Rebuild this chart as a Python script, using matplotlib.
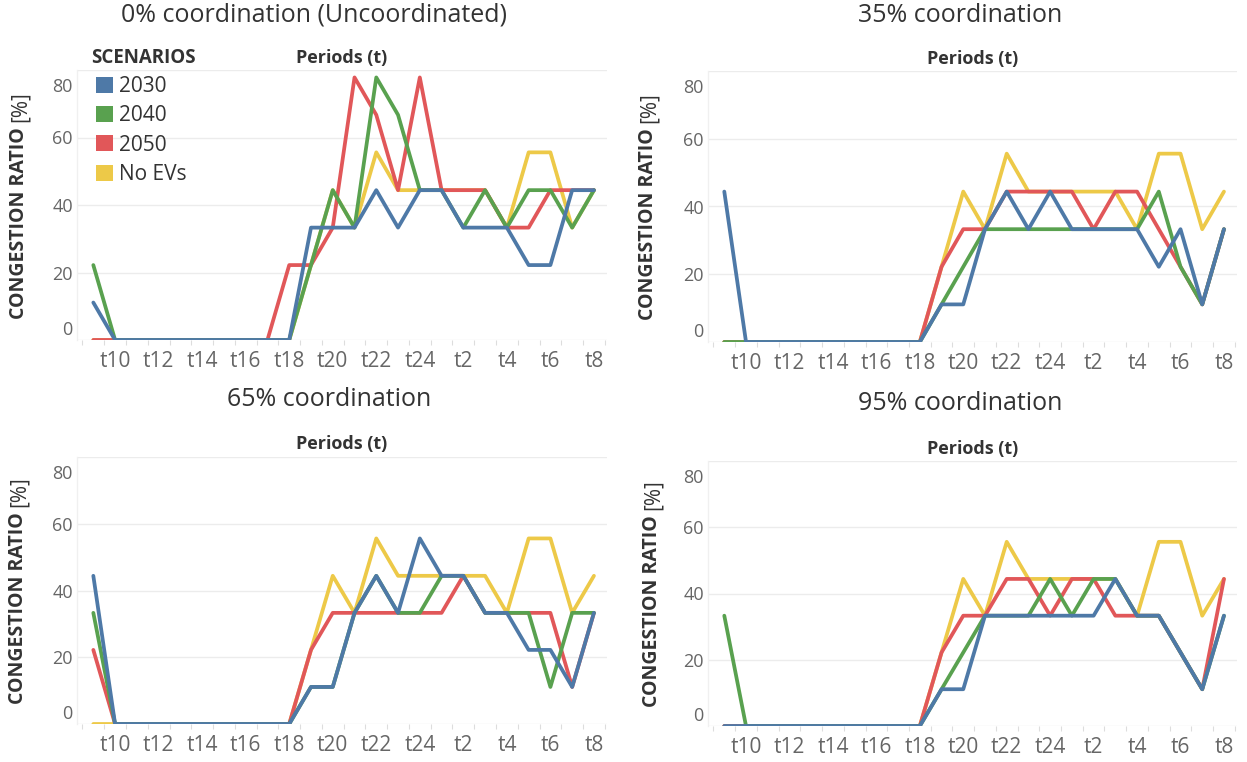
import matplotlib
matplotlib.use("Agg")
import matplotlib.pyplot as plt
from matplotlib.transforms import ScaledTranslation
from matplotlib.patches import Patch

plt.rcParams['font.family'] = ['Open Sans', 'DejaVu Sans']

# ---------------- data ----------------
periods = ['t9', 't10', 't11', 't12', 't13', 't14', 't15', 't16', 't17', 't18',
           't19', 't20', 't21', 't22', 't23', 't24', 't1', 't2', 't3', 't4',
           't5', 't6', 't7', 't8']
shown_ticks = ['t10', 't12', 't14', 't16', 't18', 't20', 't22', 't24', 't2', 't4', 't6', 't8']

scenarios = ['2030', '2040', '2050', 'No EVs']
panel_titles = ['0% coordination (Uncoordinated)', '35% coordination',
                '65% coordination', '95% coordination']

no_evs = [0, 0, 0, 0, 0, 0, 0, 0, 0, 0, 22.2, 44.4, 33.3, 55.6, 44.4, 44.4,
          44.4, 44.4, 44.4, 33.3, 55.6, 55.6, 33.3, 44.4]

c00_2030 = [11.1, 0, 0, 0, 0, 0, 0, 0, 0, 0, 33.3, 33.3, 33.3, 44.4, 33.3, 44.4,
            44.4, 33.3, 33.3, 33.3, 22.2, 22.2, 44.4, 44.4]
c00_2040 = [22.2, 0, 0, 0, 0, 0, 0, 0, 0, 0, 22.2, 44.4, 33.3, 77.8, 66.7, 44.4,
            44.4, 33.3, 44.4, 33.3, 44.4, 44.4, 33.3, 44.4]
c00_2050 = [0, 0, 0, 0, 0, 0, 0, 0, 0, 22.2, 22.2, 33.3, 77.8, 66.7, 44.4, 77.8,
            44.4, 44.4, 44.4, 33.3, 33.3, 44.4, 44.4, 44.4]

c35_2030 = [44.4, 0, 0, 0, 0, 0, 0, 0, 0, 0, 11.1, 11.1, 33.3, 44.4, 33.3, 44.4,
            33.3, 33.3, 33.3, 33.3, 22.2, 33.3, 11.1, 33.3]
c35_2040 = [0, 0, 0, 0, 0, 0, 0, 0, 0, 0, 11.1, 22.2, 33.3, 33.3, 33.3, 33.3,
            33.3, 33.3, 33.3, 33.3, 44.4, 22.2, 11.1, 33.3]
c35_2050 = [0, 0, 0, 0, 0, 0, 0, 0, 0, 0, 22.2, 33.3, 33.3, 44.4, 44.4, 44.4,
            44.4, 33.3, 44.4, 44.4, 33.3, 22.2, 11.1, 33.3]

c65_2030 = [44.4, 0, 0, 0, 0, 0, 0, 0, 0, 0, 11.1, 11.1, 33.3, 44.4, 33.3, 55.6,
            44.4, 44.4, 33.3, 33.3, 22.2, 22.2, 11.1, 33.3]
c65_2040 = [33.3, 0, 0, 0, 0, 0, 0, 0, 0, 0, 11.1, 11.1, 33.3, 44.4, 33.3, 33.3,
            44.4, 44.4, 33.3, 33.3, 33.3, 11.1, 33.3, 33.3]
c65_2050 = [22.2, 0, 0, 0, 0, 0, 0, 0, 0, 0, 22.2, 33.3, 33.3, 33.3, 33.3, 33.3,
            33.3, 44.4, 33.3, 33.3, 33.3, 33.3, 11.1, 33.3]

c95_2030 = [0, 0, 0, 0, 0, 0, 0, 0, 0, 0, 11.1, 11.1, 33.3, 33.3, 33.3, 33.3,
            33.3, 33.3, 44.4, 33.3, 33.3, 22.2, 11.1, 33.3]
c95_2040 = [33.3, 0, 0, 0, 0, 0, 0, 0, 0, 0, 11.1, 22.2, 33.3, 33.3, 33.3, 44.4,
            33.3, 44.4, 44.4, 33.3, 33.3, 22.2, 11.1, 33.3]
c95_2050 = [0, 0, 0, 0, 0, 0, 0, 0, 0, 0, 22.2, 33.3, 33.3, 44.4, 44.4, 33.3,
            44.4, 44.4, 33.3, 33.3, 33.3, 22.2, 11.1, 44.4]

panels = [
    {'2030': c00_2030, '2040': c00_2040, '2050': c00_2050, 'No EVs': no_evs},
    {'2030': c35_2030, '2040': c35_2040, '2050': c35_2050, 'No EVs': no_evs},
    {'2030': c65_2030, '2040': c65_2040, '2050': c65_2050, 'No EVs': no_evs},
    {'2030': c95_2030, '2040': c95_2040, '2050': c95_2050, 'No EVs': no_evs},
]

y_ticks = [0, 20, 40, 60, 80]

# ---------------- style ----------------
colors = {'2030': '#4E79A7', '2040': '#59A14F', '2050': '#E15759', 'No EVs': '#EDC948'}
draw_order = ['No EVs', '2050', '2040', '2030']

W, H = 1247, 762
fig = plt.figure(figsize=(W / 100, H / 100), dpi=100)
fig.patch.set_facecolor('white')

# (left, right, top, bottom) in pixels
rects = [(77, 607, 70, 340), (708, 1237, 71, 342),
         (77, 607, 457, 724), (708, 1237, 461, 726)]
title_pos = [(314, 15), (960, 15), (329, 400), (960, 404)]
periods_y = [58, 59, 444, 449]
ylabel_x = [19, 648, 18, 652]

x_idx = list(range(len(periods)))


def fx(px):
    return px / W


def fy(py):
    return 1 - py / H


renderer = fig.canvas.get_renderer()

for k, (l, r, t, b) in enumerate(rects):
    ax = fig.add_axes([fx(l), fy(b), (r - l) / W, (b - t) / H])
    data = panels[k]
    for s in draw_order:
        ax.plot(x_idx, data[s], color=colors[s], lw=2.7,
                solid_joinstyle='round', solid_capstyle='round')
    ax.set_xlim(-0.75, 23.6)
    ax.set_ylim(0, 80)

    # grid
    for v in y_ticks:
        ax.axhline(v, color='#ececec', lw=1.0, zorder=0)
    for sp in ['top', 'right', 'bottom']:
        ax.spines[sp].set_visible(False)
    ax.spines['left'].set_color('#f0f0f0')
    ax.spines['left'].set_linewidth(1.0)

    # x ticks
    ax.set_xticks([periods.index(p) for p in shown_ticks])
    ax.set_xticklabels(shown_ticks)
    ax.set_xticks([i + 0.5 for i in range(-1, 24)], minor=True)
    ax.tick_params(axis='x', which='major', length=0, pad=8, labelsize=15,
                   labelcolor='#666666')
    ax.tick_params(axis='x', which='minor', length=3.5, color='#dddddd', width=0.8)

    # y ticks
    ax.set_yticks(y_ticks)
    ax.set_yticklabels([str(v) for v in y_ticks])
    ax.tick_params(axis='y', length=0, pad=3, labelsize=13, labelcolor='#666666')
    ylabs = ax.get_yticklabels()
    ylabs[0].set_transform(ylabs[0].get_transform() +
                           ScaledTranslation(0, 12 / 100, fig.dpi_scale_trans))
    ylabs[-1].set_transform(ylabs[-1].get_transform() +
                            ScaledTranslation(0, -15 / 100, fig.dpi_scale_trans))

    # texts
    tx, ty = title_pos[k]
    fig.text(fx(tx), fy(ty), panel_titles[k], ha='center', va='center',
             fontsize=18, color='#333333')
    fig.text(fx((l + r) / 2), fy(periods_y[k]), 'Periods (t)', ha='center',
             va='center', fontsize=13, fontweight='bold', color='#333333')

    # y label: bold words + regular "[%]"
    yc = (t + b) / 2
    t1 = fig.text(0, 0, 'CONGESTION RATIO ', rotation=90, ha='center',
                  va='bottom', fontsize=14, fontweight='bold', color='#333333')
    t2 = fig.text(0, 0, '[%]', rotation=90, ha='center', va='bottom',
                  fontsize=15, color='#333333')
    h1 = t1.get_window_extent(renderer).height
    h2 = t2.get_window_extent(renderer).height
    total = h1 + h2
    y0 = (H - yc) - total / 2  # pixel from bottom
    t1.set_position((fx(ylabel_x[k]), y0 / H))
    t2.set_position((fx(ylabel_x[k] + 1), (y0 + h1) / H))

# legend inside first panel
fig.text(fx(91), fy(58), 'SCENARIOS', ha='left', va='center', fontsize=13.5,
         fontweight='bold', color='#333333')
handles = [Patch(facecolor=colors[s], edgecolor='none') for s in scenarios]
leg = fig.legend(handles, scenarios, loc='upper left',
                 bbox_to_anchor=(fx(96), fy(76)), frameon=False,
                 fontsize=15, handlelength=0.8, handleheight=0.8,
                 handletextpad=0.3, labelspacing=0.40, borderpad=0,
                 borderaxespad=0)
for txt in leg.get_texts():
    txt.set_color('#333333')

fig.savefig('out.png', dpi=100, facecolor='white')
